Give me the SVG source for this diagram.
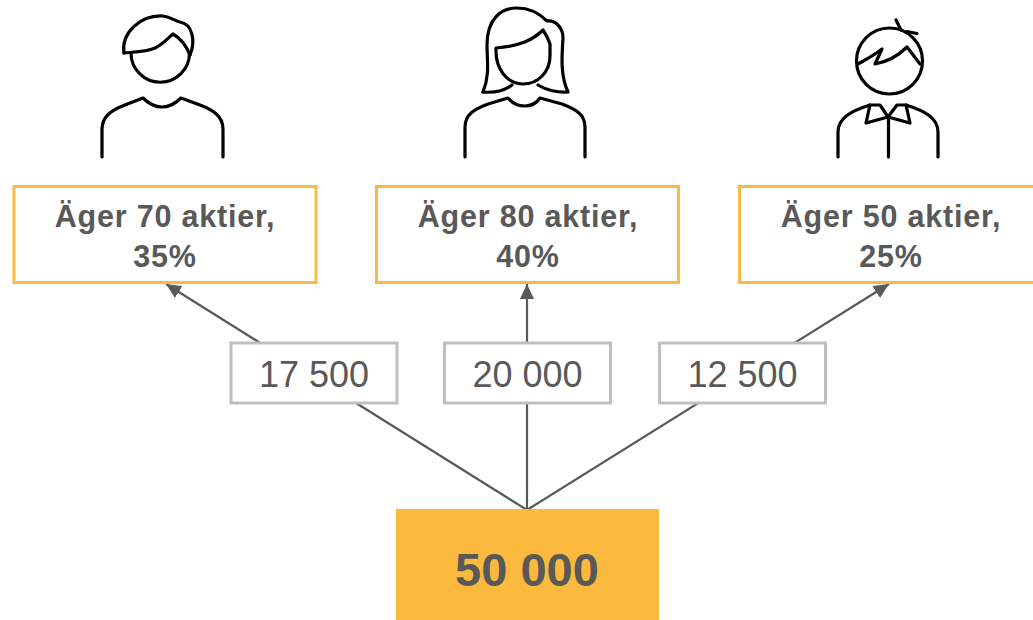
<svg xmlns="http://www.w3.org/2000/svg" width="1033" height="620" viewBox="0 0 1033 620">
  <defs>
    <style>
      .icon { fill: none; stroke: #000; stroke-width: 3.2; stroke-linecap: round; stroke-linejoin: round; }
      .owner rect { fill: #fff; stroke: #F9B942; stroke-width: 3; }
      .owner text { font-family: "Liberation Sans", Arial, sans-serif; font-weight: bold; font-size: 30.5px; letter-spacing: 0.8px; fill: #595959; text-anchor: middle; }
      .amount rect { fill: #fff; stroke: #BFBFBF; stroke-width: 3; }
      .amount text { font-family: "Liberation Sans", Arial, sans-serif; font-size: 36px; fill: #595959; text-anchor: middle; }
      .conn { stroke: #595959; stroke-width: 2.2; fill: none; marker-end: url(#arrow); }
    </style>
    <marker id="arrow" markerUnits="userSpaceOnUse" markerWidth="16" markerHeight="14" refX="15" refY="7" orient="auto">
      <path d="M0,0 L15,7 L0,14 Z" fill="#595959"/>
    </marker>
  </defs>
  <rect width="1033" height="620" fill="#fff"/>

  <!-- person icons -->
  <g id="person1" class="icon">
    <path d="M131,53 A29,29 0 1 0 189.5,53"/>
    <path d="M124,53 C121,33 140,15 163,16 C171,17 175,21 180,22 C192,24 196,40 190,55"/>
    <path d="M124,53 C135,52 146,52 155,48 C162,45 167,39 173,34 C180,38 186,45 190,55"/>
    <path d="M102,157 V129 C102,116 112,110 125,105 L143,98 C149,104 155,107 162,107 C169,107 175,104 181,98 L200,105 C213,110 223,116 223,129 V157"/>
  </g>

  <g id="person2" class="icon">
    <path d="M483,92 C490,75 487,60 487,45 C487,20 500,8 517,8 C530,8 540,14 547,21 C556,20 563,28 563,38 C562,55 560,75 568,92 C558,93 546,90 538,85"/>
    <path d="M483,92 C494,93 504,91 512,85"/>
    <path d="M496,48 C495,70 508,84 523,84 C538,84 550,72 550,56 L550,44 C548,38 545,33 543,30 C533,40 520,46 496,48 Z"/>
    <path d="M465,157 V127 C465,114 475,109 488,104 L508,98 C513,104 519,106 525,106 C531,106 536,104 540,98 L562,104 C575,109 585,114 585,127 V157"/>
  </g>

  <g id="person3" class="icon">
    <circle cx="889.5" cy="61" r="33"/>
    <path d="M858,64 C865,60 873,56 882,49 L875,64 C886,62 898,56 907,47 L920,64"/>
    <path d="M896,20 L901,30 M907,31.5 L917,33.5"/>
    <path d="M838,157 V132 C838,118 851,111 870,105 L880,105 L888,117 L897,105 L906,105 C925,111 938,118 938,132 V157"/>
    <path d="M870,105 L866,123 L888,117 L910,123 L906,105"/>
    <path d="M888.5,117 V157"/>
  </g>

  <!-- connectors -->
  <g id="connectors">
    <line class="conn" x1="527" y1="510" x2="166" y2="284"/>
    <line class="conn" x1="527" y1="510" x2="527" y2="284"/>
    <line class="conn" x1="527" y1="510" x2="889" y2="284"/>
  </g>

  <!-- owner boxes -->
  <g id="owner1" class="owner">
    <rect x="14" y="186.5" width="302" height="96"/>
    <text x="165" y="227">Äger 70 aktier,</text>
    <text x="165" y="266.5">35%</text>
  </g>
  <g id="owner2" class="owner">
    <rect x="376.5" y="186.5" width="302" height="96"/>
    <text x="528" y="227">Äger 80 aktier,</text>
    <text x="528" y="266.5">40%</text>
  </g>
  <g id="owner3" class="owner">
    <rect x="739.5" y="186.5" width="302" height="96"/>
    <text x="891" y="227">Äger 50 aktier,</text>
    <text x="891" y="266.5">25%</text>
  </g>

  <!-- amount labels -->
  <g id="amount1" class="amount">
    <rect x="231" y="343" width="166" height="60"/>
    <text x="314" y="386.5">17 500</text>
  </g>
  <g id="amount2" class="amount">
    <rect x="444.5" y="343" width="166" height="60"/>
    <text x="527.5" y="386.5">20 000</text>
  </g>
  <g id="amount3" class="amount">
    <rect x="659.5" y="343" width="166" height="60"/>
    <text x="742.5" y="386.5">12 500</text>
  </g>

  <!-- total -->
  <g id="total">
    <rect x="396" y="509" width="263" height="115" fill="#FBB93D"/>
    <text x="527" y="586" font-family="'Liberation Sans', Arial, sans-serif" font-weight="bold" font-size="47" fill="#595959" text-anchor="middle">50 000</text>
  </g>
</svg>
